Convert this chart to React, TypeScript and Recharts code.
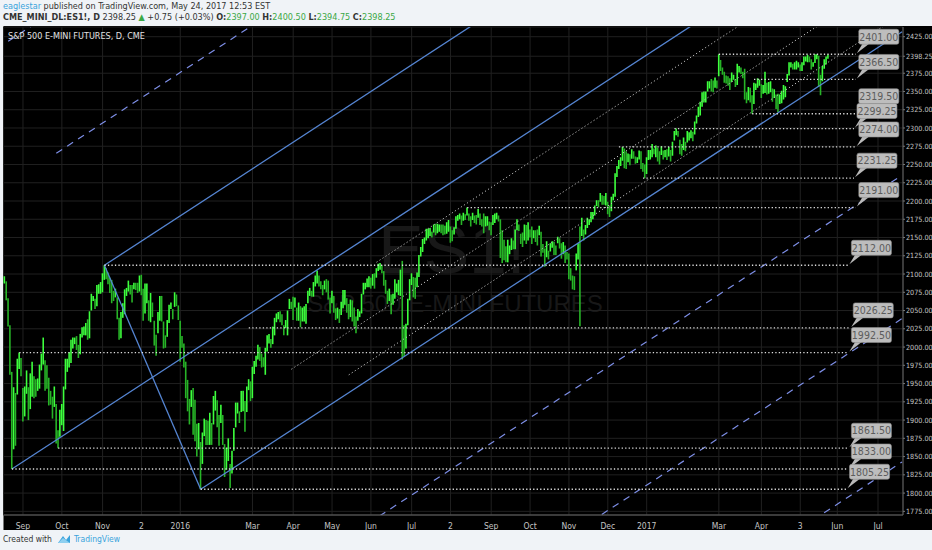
import { ComposedChart, Bar, Cell, XAxis, YAxis, CartesianGrid, ReferenceLine } from "recharts"

const FONT = '"Liberation Sans Narrow", "DejaVu Sans Condensed", "Liberation Sans", sans-serif'

// daily [low, high] of ES1!, one array per month
const aug15: number[][] = [[2087,2097],[2064,2090],[2028,2067],[1962,2030],[1833,1966],[1860,1945],[1865,1937],[1935,1984],[1970,1992.5],[1960,1985]]
const sep15: number[][] = [[1898,1944],[1905,1946],[1936,1968],[1900,1945],[1915,1964],[1932,1980],[1930,1960],[1932,1956],[1940,1957],[1943,1976],[1968,1991],[1976,2013],[1940,1982],[1943,1975],[1920,1958],[1921,1940],[1902,1932],[1918,1946],[1868,1922],[1861.5,1886],[1877,1914]]
const oct15: number[][] = [[1893,1922],[1885,1946],[1942,1984],[1966,1984],[1972,1993],[1978,2010],[1998,2013],[2004,2013],[1996,2015],[1985,2003],[1990,2018],[2013,2027],[2016,2028],[2016,2033],[2010,2038],[2012,2049],[2050,2073],[2063,2070],[2052,2066],[2056,2085],[2073,2086],[2073,2089]]
const nov15: number[][] = [[2075,2101],[2092,2112],[2093,2108],[2086,2102],[2074,2095],[2060,2092],[2063,2077],[2068,2080],[2038,2068],[2010,2040],[2012,2048],[2040,2060],[2045,2079],[2070,2081],[2076,2091],[2072,2085],[2061,2085],[2079,2088],[2078,2088],[2074,2088]]
const dec15: number[][] = [[2076,2098],[2071,2099],[2036,2080],[2046,2087],[2060,2087],[2036,2064],[2034,2074],[2041,2061],[2002,2036],[1988,2017],[2019,2048],[2036,2070],[2035,2070],[1998,2035],[1999,2016],[2014,2037],[2033,2058],[2052,2061],[2038,2052],[2055,2075],[2056,2072],[2037,2057]]
const jan16: number[][] = [[1980,2036],[1999,2015],[1972,2005],[1930,1980],[1912,1955],[1894,1929],[1918,1941],[1880,1944],[1871,1928],[1850,1895],[1860,1896],[1805.25,1870],[1840,1883],[1878,1902],[1866,1900],[1866,1899],[1866,1910],[1866,1896],[1894,1933]]
const feb16: number[][] = [[1913,1940],[1890,1927],[1865,1907],[1896,1921],[1866,1907],[1822,1867],[1832,1862],[1844,1875],[1807,1840],[1827,1858],[1858,1889],[1890,1924],[1909,1924],[1896,1912],[1911,1940],[1912,1940],[1884,1926],[1911,1946],[1941,1956],[1926,1953]]
const mar16: number[][] = [[1930,1973],[1963,1981],[1973,1988],[1983,2003],[1981,2000],[1972,1991],[1973,1986],[1962,1999],[1994,2016],[2005,2018],[1999,2011],[2004,2028],[2016,2040],[2034,2046],[2038,2048],[2034,2049],[2030,2045],[2016,2030],[2026,2037],[2016,2050],[2052,2066],[2052,2062]]
const apr16: number[][] = [[2037,2069],[2054,2068],[2036,2054],[2036,2061],[2027,2056],[2035,2054],[2035,2056],[2032,2059],[2060,2077],[2070,2081],[2069,2077],[2069,2089],[2083,2098],[2087,2105],[2083,2098],[2079,2090],[2071,2085],[2079,2091],[2075,2093],[2065,2091],[2046,2068]]
const may16: number[][] = [[2060,2077],[2047,2070],[2037,2053],[2039,2054],[2033,2052],[2044,2062],[2053,2078],[2058,2078],[2047,2067],[2038,2059],[2041,2065],[2035,2064],[2028,2054],[2019,2042],[2036,2052],[2041,2049],[2046,2073],[2072,2088],[2079,2088],[2082,2094],[2082,2097]]
const jun16: number[][] = [[2080,2095],[2084,2100],[2080,2101],[2095,2108],[2104,2114],[2106,2115],[2101,2112],[2084,2104],[2073,2092],[2059,2077],[2063,2080],[2045,2072],[2058,2073],[2066,2093],[2075,2087],[2071,2092],[2070,2106],[1983,2118],[1987,2030],[1998,2032],[2030,2066],[2064,2093]]
const jul16: number[][] = [[2085,2101],[2068,2096],[2066,2095],[2082,2102],[2096,2126],[2124,2137],[2130,2148],[2141,2150],[2146,2162],[2149,2162],[2152,2163],[2150,2158],[2157,2168],[2153,2169],[2156,2169],[2158,2168],[2156,2168],[2153,2168],[2154,2166],[2155,2171]]
const aug16: number[][] = [[2158,2174],[2143,2165],[2145,2160],[2154,2164],[2162,2179],[2173,2181],[2175,2183],[2167,2180],[2173,2184],[2174,2182],[2180,2191],[2173,2183],[2165,2179],[2174,2184],[2170,2180],[2168,2181],[2177,2189],[2167,2183],[2165,2175],[2156,2183],[2165,2179],[2166,2179],[2160,2172]]
const sep16: number[][] = [[2153,2171],[2167,2181],[2170,2183],[2175,2184],[2172,2180],[2122,2175],[2115,2160],[2119,2147],[2116,2138],[2116,2147],[2127,2139],[2133,2149],[2134,2146],[2134,2161],[2160,2175],[2159,2168],[2141,2155],[2137,2157],[2146,2168],[2141,2167],[2146,2171]]
const oct16: number[][] = [[2150,2161],[2141,2165],[2149,2160],[2144,2160],[2139,2161],[2153,2166],[2124,2158],[2129,2141],[2110,2135],[2123,2145],[2120,2132],[2131,2142],[2136,2145],[2126,2144],[2126,2139],[2142,2151],[2135,2149],[2121,2142],[2127,2144],[2115,2139],[2120,2130]]
const nov16: number[][] = [[2093,2128],[2091,2108],[2079,2098],[2078,2097],[2105,2128],[2120,2142],[2028.5,2165],[2152,2177],[2146,2161],[2154,2167],[2163,2177],[2167,2175],[2171,2185],[2175,2185],[2180,2194],[2193,2201],[2191,2201],[2199,2211],[2195,2208],[2195,2207],[2194,2211]]
const dec16: number[][] = [[2182,2199],[2178,2194],[2186,2206],[2201,2210],[2206,2238],[2233,2248],[2244,2256],[2248,2260],[2255,2274],[2245,2272],[2244,2268],[2253,2265],[2249,2264],[2258,2271],[2258,2268],[2251,2261],[2252,2260],[2257,2269],[2244,2268],[2240,2252],[2231.25,2250]]
const jan17: number[][] = [[2237,2260],[2256,2270],[2257,2270],[2260,2278],[2264,2272],[2260,2276],[2254,2273],[2250,2268],[2263,2275],[2257,2269],[2260,2270],[2256,2271],[2261,2274],[2254,2270],[2262,2281],[2283,2296],[2290,2299.25],[2288,2296],[2264,2284],[2262,2278]]
const feb17: number[][] = [[2270,2287],[2268,2281],[2280,2296],[2283,2294],[2286,2297],[2282,2295],[2291,2309],[2306,2317],[2315,2329],[2317,2336],[2329,2349],[2335,2350],[2335,2350],[2350,2364],[2354,2364],[2350,2367],[2349,2365],[2355,2369],[2354,2365]]
const mar17: number[][] = [[2371,2401],[2378,2393],[2373,2383],[2362,2377],[2361,2372],[2358,2371],[2352,2368],[2363,2376],[2366,2373],[2356,2367],[2359,2388],[2376,2385],[2374,2383],[2368,2377],[2339,2381],[2334,2349],[2338,2356],[2335,2355],[2319.5,2345],[2333,2362],[2352,2361],[2355,2368],[2358,2366.5]]
const apr17: number[][] = [[2341,2360],[2347,2359],[2348,2377],[2346,2362],[2347,2363],[2349,2364],[2336,2354],[2341,2353],[2326,2346],[2322,2347],[2333,2346],[2334,2351],[2339,2359],[2342,2357],[2363,2374],[2372,2390],[2383,2390],[2380,2388],[2380,2390]]
const may17: number[][] = [[2380,2392],[2383,2390],[2378,2387],[2378,2390],[2386,2398],[2391,2398],[2390,2400],[2390,2398],[2380,2394],[2384,2390],[2389,2401],[2394,2401],[2356,2399],[2345,2373],[2364,2385],[2381,2394],[2387,2398],[2394.75,2400.5]]

const months = [aug15, sep15, oct15, nov15, dec15, jan16, feb16, mar16, apr16, may16, jun16, jul16, aug16, sep16, oct16, nov16, dec16, jan17, feb17, mar17, apr17, may17]

// session slots shown, including the empty ones up to late July 2017
const SLOTS = 486

// x-axis labels and the session index where each one sits
const tickIdx = [10, 31, 53, 74, 95, 134, 156, 177, 198, 220, 241, 263, 284, 305, 326, 347, 386, 409, 430, 450, 472]
const tickText = ["Sep", "Oct", "Nov", "2", "2016", "Mar", "Apr", "May", "Jun", "Jul", "2", "Sep", "Oct", "Nov", "Dec", "2017", "Mar", "Apr", "3", "Jun", "Jul"]

// price scale labels (2398.25 is the last-price label that stands in for 2400)
const priceTicks = [1775, 1800, 1825, 1850, 1875, 1900, 1925, 1950, 1975, 2000, 2025, 2050, 2075, 2100, 2125, 2150, 2175, 2200, 2225, 2250, 2275, 2300, 2325, 2350, 2375, 2398.25, 2425]

// pitchfork pivots: [session index, price]
const pivotA = [4, 1833]
const pivotB = [54, 2112]
const pivotC = [106, 1805.25]

// horizontal levels with callouts
const levels = [2401, 2366.5, 2319.5, 2299.25, 2274, 2231.25, 2191, 2112, 2026.25, 1992.5, 1861.5, 1833, 1805.25]
const levelFrom = [386, 405, 404, 362, 332, 345, 250, 54, 132, 8, 29, 4, 106]
const levelTo = [460, 460, 460, 459, 460, 459, 460, 456, 457, 456, 456, 456, 455]

// dotted parallels inside the fork: start session, price offset from the median
const innerFrom = [201, 155, 186]
const innerOffset = [-42.5, -113, -172]

const bars = months.flat()
const rows = Array.from({ length: SLOTS }, (_, i) => {
  const b = bars[i]
  const p = bars[i - 1]
  const up = b && p ? b[0] + b[1] >= p[0] + p[1] : true
  return { i, range: b ? b : null, up }
})

const midX = (pivotB[0] + pivotC[0]) / 2
const midY = (pivotB[1] + pivotC[1]) / 2
const slope = (midY - pivotA[1]) / (midX - pivotA[0])
const LAST = SLOTS - 1

const ray = (x0: number, y0: number) => [
  { x: x0, y: y0 },
  { x: LAST, y: y0 + slope * (LAST - x0) },
]

const BLUE = "#5585d2"
const DASH_BLUE = "#7d8ee6"

function Callout({ viewBox, text }: any) {
  if (!viewBox) return null
  const ex = viewBox.x + viewBox.width
  const ey = viewBox.y
  const bx = ex + 3
  const by = ey - 25
  return (
    <g>
      <path d={`M${ex + 1},${ey - 1} L${bx + 4},${by + 14} L${bx + 11},${by + 14} Z`} fill="#b9b9b9" />
      <rect x={bx} y={by} width={40} height={15} rx={2} fill="#bdbdbd" stroke="#8e8e8e" strokeWidth={0.6} />
      <text x={bx + 20} y={by + 11.3} textAnchor="middle" fontSize={10.5} fill="#5c5c5c" fontFamily={FONT}>
        {text}
      </text>
    </g>
  )
}

export default function App() {
  const upper = [2, 3].map((k) => ray(midX + k * (pivotB[0] - midX), midY + k * (pivotB[1] - midY)))
  const lower = [2, 3, 4].map((k) => ray(midX + k * (pivotC[0] - midX), midY + k * (pivotC[1] - midY)))
  const median = (x: number) => pivotA[1] + slope * (x - pivotA[0])

  return (
    <div style={{ position: "absolute", left: 0, top: 0, width: 932, height: 550, background: "#f0f3f7", overflow: "hidden", fontFamily: FONT }}>
      <div style={{ position: "absolute", left: 3, top: 1, fontSize: 9, color: "#333", whiteSpace: "nowrap" }}>
        <span style={{ color: "#3aa3dc" }}>eaglestar</span> published on TradingView.com, May 24, 2017 12:53 EST
      </div>
      <div style={{ position: "absolute", left: 3, top: 12, fontSize: 9, color: "#333", whiteSpace: "nowrap" }}>
        <b>CME_MINI_DL:ES1!, D</b> 2398.25 <span style={{ color: "#3aa845" }}>▲</span> +0.75 (+0.03%) <b>O:</b>
        <span style={{ color: "#3aa845" }}>2397.00</span> <b>H:</b><span style={{ color: "#3aa845" }}>2400.50</span>{" "}
        <b>L:</b><span style={{ color: "#3aa845" }}>2394.75</span> <b>C:</b><span style={{ color: "#3aa845" }}>2398.25</span>
      </div>

      <div style={{ position: "absolute", left: 3, top: 26, width: 929, height: 504, background: "#000", borderLeft: "1px solid #777", boxSizing: "border-box" }} />

      <svg style={{ position: "absolute", left: 4, top: 27 }} width={899} height={488}>
        <text x={448} y={246} textAnchor="middle" fontSize={68} fill="#181818" fontFamily='"Liberation Sans", sans-serif'>ES1!</text>
        <text x={451} y={285} textAnchor="middle" fontSize={24} fill="#181818" fontFamily='"Liberation Sans", sans-serif'>S&amp;P 500 E-MINI FUTURES</text>
      </svg>

      <div style={{ position: "absolute", left: 0, top: 26 }}>
        <ComposedChart width={932} height={504} data={rows} margin={{ top: 1, right: 0, bottom: 0, left: 3.55 }} barCategoryGap={0}>
          <CartesianGrid stroke="#202020" strokeWidth={1} />
          <XAxis
            dataKey="i"
            type="category"
            ticks={tickIdx}
            interval={0}
            height={15}
            tickFormatter={(v) => tickText[tickIdx.indexOf(Number(v))] ?? ""}
            tick={{ fill: "#c4c4c4", fontSize: 8.5, fontFamily: FONT }}
            tickLine={false}
            axisLine={{ stroke: "#666" }}
          />
          <YAxis
            orientation="right"
            type="number"
            domain={[1770, 2438.3]}
            allowDataOverflow
            ticks={priceTicks}
            interval={0}
            width={29}
            tickFormatter={(v) => Number(v).toFixed(2)}
            tick={{ fill: "#c4c4c4", fontSize: 7.2, fontFamily: FONT }}
            tickSize={2}
            tickMargin={1}
            tickLine={{ stroke: "#777" }}
            axisLine={{ stroke: "#666" }}
          />
          <Bar dataKey="range" barSize={1.6} isAnimationActive={false}>
            {rows.map((r) => (
              <Cell key={r.i} fill={r.up ? "#3dff3d" : "#27b427"} />
            ))}
          </Bar>

          {upper.map((s, k) => (
            <ReferenceLine key={"u" + k} segment={s} stroke={DASH_BLUE} strokeWidth={1.2} strokeDasharray="7 6" ifOverflow="hidden" />
          ))}
          {lower.map((s, k) => (
            <ReferenceLine key={"l" + k} segment={s} stroke={DASH_BLUE} strokeWidth={1.2} strokeDasharray="7 6" ifOverflow="hidden" />
          ))}
          {innerFrom.map((x0, k) => (
            <ReferenceLine key={"d" + k} segment={ray(x0, median(x0) + innerOffset[k])} stroke="#bdbdbd" strokeWidth={1} strokeDasharray="1.2 2.4" ifOverflow="hidden" />
          ))}
          <ReferenceLine segment={ray(pivotA[0], pivotA[1])} stroke={BLUE} strokeWidth={1.3} ifOverflow="hidden" />
          <ReferenceLine segment={ray(pivotB[0], pivotB[1])} stroke={BLUE} strokeWidth={1.3} ifOverflow="hidden" />
          <ReferenceLine segment={ray(pivotC[0], pivotC[1])} stroke={BLUE} strokeWidth={1.3} ifOverflow="hidden" />
          <ReferenceLine
            segment={[{ x: pivotB[0], y: pivotB[1] }, { x: pivotC[0], y: pivotC[1] }]}
            stroke={BLUE}
            strokeWidth={1.3}
            ifOverflow="hidden"
          />

          {levels.map((v, k) => (
            <ReferenceLine
              key={"h" + k}
              segment={[{ x: levelFrom[k], y: v }, { x: levelTo[k], y: v }]}
              stroke="#dcdcdc"
              strokeWidth={1.3}
              strokeDasharray="1.3 2.2"
              ifOverflow="visible"
              label={(p: any) => <Callout viewBox={p.viewBox} text={v.toFixed(2)} />}
            />
          ))}
        </ComposedChart>
      </div>

      <div style={{ position: "absolute", left: 8, top: 31, fontSize: 9, color: "#e2e2e2", whiteSpace: "nowrap" }}>
        S&amp;P 500 E-MINI FUTURES, D, CME
      </div>

      <div style={{ position: "absolute", left: 3, top: 534, fontSize: 8.5, color: "#333", whiteSpace: "nowrap", display: "flex", alignItems: "center" }}>
        <span>Created with</span>
        <svg width={14} height={10} style={{ margin: "0 3px 0 5px" }}>
          <path d="M1,9 L6,2 L9,6 L13,1 L13,9 Z" fill="#3aa3dc" />
          <path d="M1,9 L6,4 L13,9 Z" fill="#8fd0f0" />
        </svg>
        <span style={{ color: "#3aa3dc" }}>TradingView</span>
      </div>
    </div>
  )
}
